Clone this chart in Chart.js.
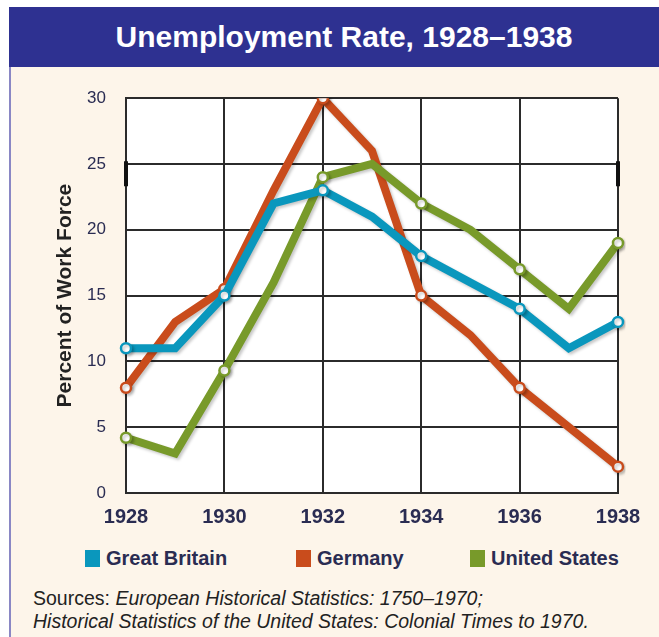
<!DOCTYPE html>
<html lang="en">
<head>
    <meta charset="UTF-8">
    <title>Unemployment Rate, 1928–1938</title>
    <script src="https://cdn.jsdelivr.net/npm/chart.js"></script>
    <style>
        body {
            margin: 0;
            width: 659px;
            height: 637px;
            background: #ffffff;
            position: relative;
            overflow: hidden;
            font-family: "Liberation Sans", Arial, sans-serif;
        }
        .title-bar {
            position: absolute;
            left: 9px;
            top: 7px;
            width: 650px;
            height: 60px;
            background: #2e3191;
            color: #fff;
            font-weight: bold;
            font-size: 30px;
            line-height: 60px;
            text-align: center;
            text-indent: 20px;
        }
        .panel {
            position: absolute;
            left: 9px;
            top: 67px;
            width: 650px;
            height: 570px;
            background: #fdf5ea;
            border-left: 2px solid #8a87c4;
        }
        .chart-box {
            position: absolute;
            left: 2px;
            top: 1px;
            width: 648px;
            height: 470px;
        }
        .legend-item {
            position: absolute;
            top: 479px;
            height: 24px;
            font-size: 20px;
            font-weight: bold;
            line-height: 24px;
            color: #2a2c52;
            white-space: nowrap;
        }
        .legend-item span {
            display: inline-block;
            width: 15px;
            height: 17px;
            margin-right: 6px;
            vertical-align: -2px;
        }
        .sources {
            position: absolute;
            left: 22px;
            top: 520px;
            font-size: 19.5px;
            line-height: 23px;
            color: #222;
            white-space: nowrap;
        }
    </style>
</head>
<body>
    <div class="title-bar">Unemployment Rate, 1928–1938</div>
    <div class="panel">
        <div class="chart-box">
            <canvas id="unemploymentChart" width="648" height="470"></canvas>
        </div>
        <div id="legend"></div>
        <div class="sources">
            Sources: <i>European Historical Statistics: 1750–1970;</i><br>
            <i>Historical Statistics of the United States: Colonial Times to 1970.</i>
        </div>
    </div>
    <script>
        // values, percent of work force
        const years = ['1928', '1929', '1930', '1931', '1932', '1933', '1934', '1935', '1936', '1937', '1938'];
        const greatBritain = [11, 11, 15, 22, 23, 21, 18, 16, 14, 11, 13];
        const germany = [8, 13, 15.5, 23, 30, 26, 15, 12, 8, 5, 2];
        const unitedStates = [4.2, 3, 9.3, 16, 24, 25, 22, 20, 17, 14, 19];
        const yTicks = [0, 5, 10, 15, 20, 25, 30];

        const seriesNames = ['Great Britain', 'Germany', 'United States'];
        const seriesColors = ['#0a97bd', '#c94c1c', '#789a2a'];
        const legendLeft = [74, 285, 459];

        const fontFam = '"Liberation Sans", Arial, sans-serif';
        const inkBlue = '#2a2c52';

        // circles only on the labelled (even) years
        const markRadius = years.map((y, i) => i % 2 === 0 ? 5 : 0);

        function series(label, data, color, order) {
            return {
                label: label,
                data: data,
                borderColor: color,
                backgroundColor: color,
                borderWidth: 8,
                pointRadius: markRadius,
                pointHoverRadius: markRadius,
                pointBackgroundColor: '#ffffff',
                pointBorderColor: color,
                pointBorderWidth: 2.5,
                tension: 0,
                order: order
            };
        }

        // html legend under the chart
        const legendBox = document.getElementById('legend');
        seriesNames.forEach((name, i) => {
            const item = document.createElement('div');
            item.className = 'legend-item';
            item.style.left = legendLeft[i] + 'px';
            item.innerHTML = '<span style="background:' + seriesColors[i] + '"></span>' + name;
            legendBox.appendChild(item);
        });

        // white plot area, soft shadow under lines, small black marks at 25
        const plotBack = {
            id: 'plotBack',
            beforeDraw(chart) {
                const a = chart.chartArea;
                const c = chart.ctx;
                c.save();
                c.fillStyle = '#ffffff';
                c.fillRect(a.left, a.top, a.right - a.left, a.bottom - a.top);
                c.restore();
            },
            beforeDatasetDraw(chart) {
                const c = chart.ctx;
                c.save();
                c.shadowColor = 'rgba(0,0,0,0.22)';
                c.shadowBlur = 3;
                c.shadowOffsetX = 2;
                c.shadowOffsetY = 2;
            },
            afterDatasetDraw(chart) {
                chart.ctx.restore();
            },
            afterDraw(chart) {
                const a = chart.chartArea;
                const y = chart.scales.y;
                const c = chart.ctx;
                c.save();
                c.strokeStyle = '#111';
                c.lineWidth = 4;
                c.beginPath();
                c.moveTo(a.left, y.getPixelForValue(25.2));
                c.lineTo(a.left, y.getPixelForValue(23.3));
                c.moveTo(a.right, y.getPixelForValue(25.2));
                c.lineTo(a.right, y.getPixelForValue(23.3));
                c.stroke();
                c.restore();
            }
        };

        const ctx = document.getElementById('unemploymentChart').getContext('2d');
        new Chart(ctx, {
            type: 'line',
            data: {
                labels: years,
                datasets: [
                    series(seriesNames[0], greatBritain, seriesColors[0], 0),
                    series(seriesNames[1], germany, seriesColors[1], 2),
                    series(seriesNames[2], unitedStates, seriesColors[2], 1)
                ]
            },
            options: {
                responsive: false,
                animation: false,
                layout: {
                    padding: { left: 40, top: 27, right: 43, bottom: 0 }
                },
                plugins: {
                    tooltip: { enabled: false },
                    legend: { display: false }
                },
                scales: {
                    x: {
                        grid: {
                            color: (c) => c.index % 2 === 0 ? '#2b2b2b' : 'rgba(0,0,0,0)',
                            lineWidth: 2,
                            drawTicks: false
                        },
                        border: { color: '#2b2b2b', width: 2 },
                        ticks: {
                            autoSkip: false,
                            maxRotation: 0,
                            padding: 12,
                            color: inkBlue,
                            font: { family: fontFam, size: 20, weight: 'bold' },
                            callback: function (v, i) { return i % 2 === 0 ? years[i] : ''; }
                        },
                        afterFit: (s) => { s.height = 45; }
                    },
                    y: {
                        min: 0,
                        max: 30,
                        afterBuildTicks: (s) => { s.ticks = yTicks.map(v => ({ value: v })); },
                        grid: {
                            color: '#2b2b2b',
                            lineWidth: 2,
                            drawTicks: false
                        },
                        border: { color: '#2b2b2b', width: 2 },
                        ticks: {
                            padding: 20,
                            color: inkBlue,
                            font: { family: fontFam, size: 17 }
                        },
                        title: {
                            display: true,
                            text: 'Percent of Work Force',
                            color: '#222',
                            padding: { top: 0, bottom: 0 },
                            font: { family: fontFam, size: 21, weight: 'bold' }
                        },
                        afterFit: (s) => { s.width = 73; }
                    }
                }
            },
            plugins: [plotBack]
        });
    </script>
</body>
</html>
